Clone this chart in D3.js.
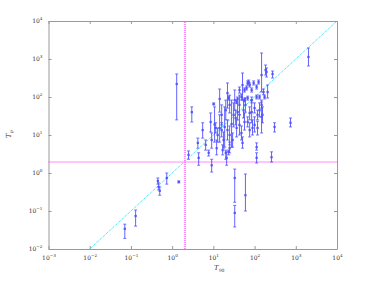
<!DOCTYPE html>
<html>
<head>
<meta charset="utf-8">
<script src="https://cdn.jsdelivr.net/npm/d3@7"></script>
<style>
  body { margin: 0; background: #fff; }
  text { font-family: "DejaVu Serif", "Liberation Serif", serif; fill: #333; }
</style>
</head>
<body>
<div id="chart"></div>
<script>
// T90 (x), Tp (y) and the Tp error range
const t90 = [0.071, 0.13, 0.45, 0.47, 0.50, 0.74, 1.45, 2.5, 4.4, 7.7, 9.1, 20, 23.5, 33, 33, 60, 112, 112, 258, 21,
  1.29, 3.0, 2030, 273, 744, 305, 5.5, 4.2, 10.2, 148, 185, 195, 207, 51, 72, 95, 125, 112, 85, 22,
  14.2, 23.5, 68, 76, 64, 57, 43, 38.7, 48, 36.6, 57, 68, 85, 112, 132, 165, 175, 148, 8.6, 10.7,
  11.4, 14.2, 15.9, 18.8, 22, 27.7, 31, 36.6, 38.7, 48, 57, 68, 76, 89, 85, 100, 118, 148, 156, 12.7,
  17.7, 24.8, 29.3, 34.7, 43, 54, 60, 76, 100, 118, 132, 15.9, 20, 24.8, 33, 43, 9.1, 6.5, 12, 16.8,
  24.8, 51];
const tp = [0.034, 0.074, 0.62, 0.43, 0.34, 0.74, 0.58, 3.0, 2.5, 3.4, 1.6, 3.4, 3.6, 0.74, 0.089, 0.26, 4.8, 2.5, 2.6, 2.5,
  220, 40, 1130, 403, 21, 16.3, 13.5, 6.2, 65, 379, 514, 455, 135, 207, 248, 234, 248, 183, 153, 127,
  89, 94, 234, 207, 173, 153, 153, 89, 100, 74, 83, 94, 83, 100, 100, 135, 100, 62, 22, 19,
  15.3, 15.3, 13.5, 16.3, 13.5, 19.5, 34, 15.3, 40, 11.3, 22, 22, 38, 15.3, 40, 51, 34, 30, 34, 10,
  7.4, 10, 7.4, 28, 18.4, 45, 62, 13.5, 18.4, 15.3, 45, 34, 45, 62, 83, 62, 7.4, 5.5, 4.5, 4.0,
  4.5, 6.2];
const tpLow = [0.019, 0.040, 0.51, 0.36, 0.26, 0.51, 0.55, 2.3, 1.6, 2.8, 1.06, 2.3, 3.0, 0.17, 0.038, 0.1, 4.0, 1.83, 1.95, 1.6,
  25, 22, 655, 316, 16.3, 12, 8.3, 4.5, 62, 135, 379, 336, 94, 83, 220, 207, 220, 162, 135, 51,
  40, 83, 207, 183, 153, 135, 127, 78, 83, 67, 74, 83, 70, 89, 89, 115, 89, 51, 12, 6.5,
  11.3, 6.5, 8.9, 4.8, 7.4, 4.8, 16.3, 8.9, 25, 7.4, 13.5, 16.3, 25, 10, 21, 38, 25, 11.3, 21, 6.5,
  4.5, 5.5, 4.8, 18.4, 10, 28, 40, 8.9, 12, 10, 30, 18.4, 25, 38, 45, 34, 4.5, 4.0, 3.0, 3.0,
  3.4, 4.5];
const tpHigh = [0.045, 0.106, 0.74, 0.55, 0.43, 1.0, 0.62, 3.8, 3.4, 4.0, 2.3, 4.0, 4.0, 1.27, 0.14, 0.94, 6.2, 3.4, 3.6, 3.6,
  403, 55, 1950, 483, 28, 21, 21, 8.3, 70, 1440, 695, 580, 207, 428, 280, 265, 280, 207, 173, 234,
  162, 105, 265, 234, 195, 173, 183, 100, 120, 83, 94, 105, 100, 112, 112, 162, 112, 74, 38, 55,
  21, 34, 21, 55, 25, 83, 70, 25, 70, 17.3, 38, 30, 55, 25, 83, 70, 45, 83, 55, 15.3,
  12, 17.3, 11.3, 45, 34, 83, 94, 21, 30, 23, 70, 62, 83, 112, 153, 112, 11.3, 7.4, 7.4, 5.5,
  6.5, 8.9];

const xTicks = [1e-3, 1e-2, 1e-1, 1e0, 1e1, 1e2, 1e3, 1e4];
const yTicks = [1e-2, 1e-1, 1e0, 1e1, 1e2, 1e3, 1e4];
const threshold = 2;   // magenta cut on both axes

const width = 374, height = 281;
const svg = d3.select("#chart").append("svg")
  .attr("width", width).attr("height", height);
svg.append("rect").attr("width", width).attr("height", height).attr("fill", "#fff");

const x = d3.scaleLog().domain([1e-3, 1e4]).range([48.5, 337]);
const y = d3.scaleLog().domain([1e-2, 1e4]).range([249, 21]);

// superscript labels like 10^-2
function powLabel(sel) {
  sel.each(function(d) {
    const t = d3.select(this).text("");
    const e = Math.round(Math.log10(d));
    t.append("tspan").text("10");
    t.append("tspan").attr("dy", -3).attr("font-size", 4.2).text(e < 0 ? "\u2212" + (-e) : e);
  });
}

function styleAxis(g) {
  g.select(".domain").attr("stroke", "#999").attr("stroke-width", 1);
  g.selectAll(".tick line").attr("stroke", "#999");
  g.selectAll(".tick text").attr("font-size", 6).attr("fill", "#333");
}

svg.append("g").attr("transform", "translate(0,249)")
  .call(d3.axisBottom(x).tickValues(xTicks).tickSize(-3).tickSizeOuter(0).tickPadding(7))
  .call(styleAxis)
  .call(g => g.selectAll(".tick text").call(powLabel));

svg.append("g").attr("transform", "translate(0,21)")
  .call(d3.axisTop(x).tickValues(xTicks).tickSize(-3).tickSizeOuter(0).tickFormat(""))
  .call(styleAxis);

svg.append("g").attr("transform", "translate(48.5,0)")
  .call(d3.axisLeft(y).tickValues(yTicks).tickSize(-3).tickSizeOuter(0).tickPadding(6))
  .call(styleAxis)
  .call(g => g.selectAll(".tick text").call(powLabel));

svg.append("g").attr("transform", "translate(337,0)")
  .call(d3.axisRight(y).tickValues(yTicks).tickSize(-3).tickSizeOuter(0).tickFormat(""))
  .call(styleAxis);

// y = x reference line
svg.append("line")
  .attr("x1", x(1e-2)).attr("y1", y(1e-2))
  .attr("x2", x(1e4)).attr("y2", y(1e4))
  .attr("stroke", "#00e5ff").attr("stroke-width", 1).attr("stroke-dasharray", "1,1");

// threshold lines (snapped to whole pixels so both look alike)
const tx = Math.round(x(threshold)), ty = Math.round(y(threshold));
svg.append("line")
  .attr("x1", tx).attr("x2", tx)
  .attr("y1", y(1e-2)).attr("y2", y(1e4))
  .attr("stroke", "#ff66ff").attr("stroke-width", 1.5).attr("stroke-dasharray", "1,1");
svg.append("line")
  .attr("x1", x(1e-3)).attr("x2", x(1e4))
  .attr("y1", ty).attr("y2", ty)
  .attr("stroke", "#ff66ff").attr("stroke-width", 1.5).attr("stroke-dasharray", "1,1");

const pts = t90.map((d, i) => ({ x: d, y: tp[i], lo: tpLow[i], hi: tpHigh[i] }));
const blue = "#2828ff";

const bars = svg.append("g").attr("opacity", 0.8);
bars.selectAll("line.err").data(pts).enter().append("line")
  .attr("class", "err")
  .attr("x1", d => x(d.x)).attr("x2", d => x(d.x))
  .attr("y1", d => y(d.lo)).attr("y2", d => y(d.hi))
  .attr("stroke", blue).attr("stroke-width", 0.9);
bars.selectAll("line.capLo").data(pts).enter().append("line")
  .attr("x1", d => x(d.x) - 1.5).attr("x2", d => x(d.x) + 1.5)
  .attr("y1", d => y(d.lo)).attr("y2", d => y(d.lo))
  .attr("stroke", blue).attr("stroke-width", 0.8);
bars.selectAll("line.capHi").data(pts).enter().append("line")
  .attr("x1", d => x(d.x) - 1.5).attr("x2", d => x(d.x) + 1.5)
  .attr("y1", d => y(d.hi)).attr("y2", d => y(d.hi))
  .attr("stroke", blue).attr("stroke-width", 0.8);
bars.selectAll("rect.pt").data(pts).enter().append("rect")
  .attr("x", d => x(d.x) - 1.1).attr("y", d => y(d.y) - 1.1)
  .attr("width", 2.2).attr("height", 2.2)
  .attr("fill", blue);

// axis titles
const xl = svg.append("text").attr("x", 214).attr("y", 270).attr("font-size", 7).attr("font-style", "italic");
xl.append("tspan").text("T");
xl.append("tspan").attr("dy", 1.5).attr("font-size", 4.5).attr("font-style", "normal").text("90");

const yl = svg.append("text").attr("transform", "translate(11,138) rotate(-90)").attr("font-size", 7).attr("font-style", "italic");
yl.append("tspan").text("T");
yl.append("tspan").attr("dy", 1.5).attr("font-size", 4.5).text("p");
</script>
</body>
</html>
